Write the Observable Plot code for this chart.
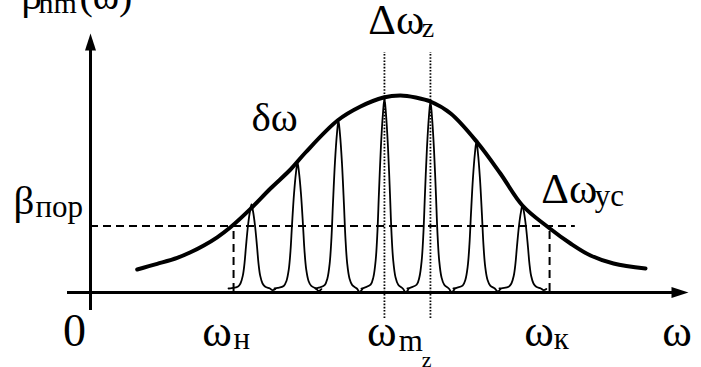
<!DOCTYPE html>
<html>
<head>
<meta charset="utf-8">
<script src="https://cdn.jsdelivr.net/npm/d3@7"></script>
<script src="https://cdn.jsdelivr.net/npm/@observablehq/plot@0.6"></script>
<style>
  html, body { margin: 0; padding: 0; background: #fff; }
  #chart svg { display: block; }
</style>
</head>
<body>
<div id="chart"></div>
<script>
// Gain envelope β_nm(ω): frequency samples and gain
const envelopeOmega = [1.015, 1.45, 1.885, 2.174, 2.463, 2.754, 3.043, 3.478, 3.913, 4.348, 4.674, 5.37, 5.87, 6.37, 6.74, 7.07, 7.39, 7.83, 8.41, 8.91, 9.39, 9.957, 10.435, 10.87, 11.37, 12.065];
const envelopeGain  = [0.115, 0.143, 0.173, 0.201, 0.235, 0.276, 0.326, 0.418, 0.520, 0.615, 0.700, 0.860, 0.930, 0.975, 0.985, 0.975, 0.955, 0.895, 0.750, 0.595, 0.435, 0.325, 0.245, 0.185, 0.145, 0.120];

// Longitudinal modes: centre frequency and peak gain
const modeOmega = [3.50, 4.50, 5.39, 6.39, 7.39, 8.39, 9.39];
const modePeak  = [0.44, 0.65, 0.86, 0.97, 0.955, 0.755, 0.435];
const modeFloor = 0.02;

// Shape of one mode line: offset from its centre and fraction of its height
const profileOffset = [-0.50, -0.43, -0.30, -0.24, -0.19, -0.152, -0.12, -0.076, -0.033, 0, 0.033, 0.076, 0.12, 0.152, 0.19, 0.24, 0.30, 0.40, 0.46, 0.52];
const profileLevel  = [0, 0.005, 0.02, 0.06, 0.15, 0.30, 0.50, 0.75, 0.92, 1, 0.92, 0.75, 0.50, 0.30, 0.15, 0.06, 0.02, 0.0, -0.02, -0.005];

// Threshold gain β_пор and the band where gain exceeds it (ω_н … ω_к)
const thresholdGain = 0.333;
const thresholdEnd = 10.54;
const bandLow = 3.11;
const bandHigh = 9.98;

// Axes extent (ω, gain)
const axisOmega = [-0.5, 12.7, 13.0];
const axisGain = [-0.09, 1.225, 1.295];

// Labels
const mainText = ["β", "(ω)", "Δω", "δω", "β", "Δω", "0", "ω", "ω", "ω", "ω"];
const subText = ["nm", "z", "пор", "ус", "н", "m", "z", "к"];

// Table of mode curves built from the profile
const modeLines = modeOmega.flatMap((c, i) =>
  profileOffset.map((o, k) => ({
    mode: i,
    omega: c + o,
    gain: modeFloor + profileLevel[k] * (modePeak[i] - modeFloor)
  }))
);
const envelope = envelopeOmega.map((w, i) => ({omega: w, gain: envelopeGain[i]}));

// Filled, elongated arrowhead pointing up, tip at the anchor
const arrowHead = {
  draw(ctx) {
    ctx.moveTo(0, 0);
    ctx.lineTo(-5.5, 17);
    ctx.lineTo(5.5, 17);
    ctx.closePath();
  }
};

const serif = "Liberation Serif, Times New Roman, serif";

const mainPlace = [
  {x: -1.50, y: 1.42, size: 40}, {x: -0.24, y: 1.42, size: 40},
  {x: 6.04, y: 1.295, size: 43},
  {x: 3.50, y: 0.81, size: 41},
  {x: -1.674, y: 0.395, size: 41},
  {x: 9.80, y: 0.45, size: 43},
  {x: -0.60, y: -0.265, size: 46},
  {x: 2.43, y: -0.265, size: 45},
  {x: 6.01, y: -0.265, size: 45},
  {x: 9.43, y: -0.265, size: 45},
  {x: 12.43, y: -0.265, size: 45}
].map((p, i) => ({...p, text: mainText[i]}));

const subPlace = [
  {x: -1.13, y: 1.40, size: 30, italic: true},
  {x: 7.20, y: 1.28, size: 28},
  {x: -1.196, y: 0.38, size: 31},
  {x: 10.96, y: 0.435, size: 31},
  {x: 3.11, y: -0.28, size: 31},
  {x: 6.70, y: -0.29, size: 31, italic: true},
  {x: 7.20, y: -0.37, size: 22},
  {x: 10.07, y: -0.28, size: 31}
].map((p, i) => ({...p, text: subText[i]}));

const chart = Plot.plot({
  width: 701,
  height: 367,
  margin: 0,
  style: {background: "#fff"},
  x: {domain: [-90 / 46, 611 / 46], axis: null},
  y: {domain: [-75 / 200, 292 / 200], axis: null},
  marks: [
    // axes
    Plot.ruleY([0], {x1: axisOmega[0], x2: axisOmega[1], stroke: "#000", strokeWidth: 3}),
    Plot.ruleX([0], {y1: axisGain[0], y2: axisGain[1], stroke: "#000", strokeWidth: 3}),
    Plot.dot([{x: axisOmega[2], y: 0}], {x: "x", y: "y", symbol: arrowHead, fill: "#000", stroke: null, rotate: 90}),
    Plot.dot([{x: 0, y: axisGain[2]}], {x: "x", y: "y", symbol: arrowHead, fill: "#000", stroke: null}),
    // threshold and band edges
    Plot.ruleY([thresholdGain], {x1: 0, x2: thresholdEnd, stroke: "#000", strokeWidth: 2, strokeDasharray: "8,5"}),
    Plot.ruleX([bandLow, bandHigh], {y1: modeFloor - 0.015, y2: thresholdGain, stroke: "#000", strokeWidth: 2, strokeDasharray: "8,5"}),
    // dotted markers through the two central modes
    Plot.ruleX([modeOmega[3], modeOmega[4]], {y1: -0.13, y2: 1.2, stroke: "#000", strokeWidth: 1.8, strokeDasharray: "1.6,1.6"}),
    // mode lines
    Plot.line(modeLines, {x: "omega", y: "gain", z: "mode", stroke: "#000", strokeWidth: 1.8, curve: "catmull-rom"}),
    // gain envelope
    Plot.line(envelope, {x: "omega", y: "gain", stroke: "#000", strokeWidth: 4, curve: "catmull-rom"}),
    // labels
    Plot.text(mainPlace, {x: "x", y: "y", text: "text", textAnchor: "start", lineAnchor: "bottom",
      fontFamily: serif, fontSize: "size", fill: "#000"}),
    Plot.text(subPlace, {x: "x", y: "y", text: "text", textAnchor: "start", lineAnchor: "bottom",
      fontFamily: serif, fontSize: "size", fill: "#000",
      fontStyle: d => d.italic ? "italic" : "normal"})
  ]
});

document.getElementById("chart").appendChild(chart);
</script>
</body>
</html>
